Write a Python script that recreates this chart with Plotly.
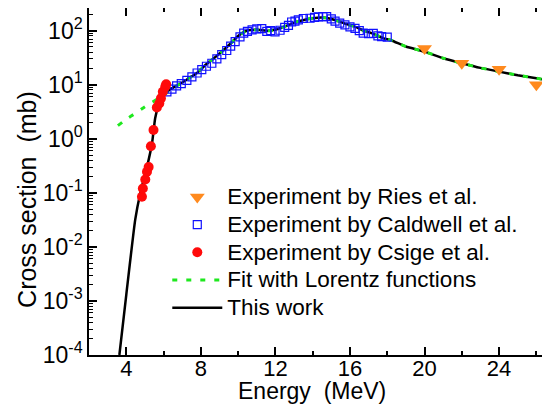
import plotly.graph_objects as go

# =============================================================================
# DATA
# =============================================================================
# This work (black solid curve)
work_e = [3.63, 4.0, 4.48, 4.75, 5.11, 5.38, 5.55, 5.73, 5.9, 6.09, 6.36, 6.62, 7.0,
          7.34, 7.79, 8.23, 8.6, 9.12, 9.6, 10.0, 10.46, 11.0, 11.7, 12.2, 12.69,
          13.1, 13.59, 14.0, 14.48, 14.9, 15.37, 15.8, 16.27, 16.7, 17.16, 17.78,
          18.23, 19.0, 20.0, 21.0, 22.0, 23.0, 24.0, 25.0, 26.0, 27.0]
work_xs = [1.0e-4, 1.3e-3, 0.032, 0.098, 0.30, 0.82, 2.4, 4.2, 5.6, 6.9, 8.3, 9.2, 11,
           13.1, 16.5, 23, 29, 41, 58, 80, 100, 104, 100, 110, 127,
           145, 160, 170, 175, 168, 151, 133, 119, 102, 90, 73,
           66, 51, 41, 31, 25, 20.5, 17.5, 15, 13.2, 11.5]

# Fit with Lorentz functions (green dotted)
fit_e = [3.55, 4.0, 4.48, 5.0, 5.29, 5.7, 6.09, 6.36, 6.62, 7.0, 7.34, 7.79, 8.23,
         8.6, 9.12, 9.6, 10.0, 10.46, 11.0, 11.7, 12.2, 12.69, 13.1, 13.59, 14.0,
         14.48, 14.9, 15.37, 15.8, 16.27, 16.7, 17.16, 17.78, 18.23, 19.0, 20.0,
         21.0, 22.0, 23.0, 24.0, 25.0, 26.0, 27.0]
fit_xs = [1.75, 2.3, 2.95, 3.9, 4.5, 5.5, 6.7, 8.3, 9.2, 11, 13.1, 16.5, 23,
          29, 41, 58, 80, 100, 104, 100, 110, 127, 145, 160, 170,
          175, 168, 151, 133, 119, 102, 90, 73, 66, 51, 41,
          31, 25, 20.5, 17.5, 15, 13.2, 11.5]

# Experiment by Ries et al.
ries_e = [20.0, 22.0, 24.0, 26.0]
ries_xs = [47, 25, 19.3, 10.0]

# Experiment by Caldwell et al.
cald_e = [6.18, 6.45, 6.7, 6.95, 7.25, 7.52, 7.8, 8.05, 8.3, 8.59, 8.86, 9.12, 9.39,
          9.6, 9.84, 10.1, 10.3, 10.5, 10.75, 11.0, 11.27, 11.54, 11.75, 11.98,
          12.25, 12.5, 12.7, 12.87, 13.05, 13.23, 13.5, 13.86, 14.1, 14.3, 14.55,
          14.75, 15.0, 15.2, 15.45, 15.73, 16.0, 16.27, 16.5, 16.71, 17.0, 17.25,
          17.5, 17.7, 18.0]
cald_xs = [7.4, 8.3, 9.5, 10.5, 12.0, 14.0, 16.5, 19, 22, 25, 30, 36, 43,
           52, 63, 77, 90, 97, 104, 108, 109, 97, 100, 95,
           102, 115, 125, 145, 150, 158, 168, 170, 176, 180, 182,
           182, 165, 150, 138, 128, 118, 110, 100, 90, 88, 89,
           80, 78, 76]

# Experiment by Csige et al.
csige_e = [4.84, 4.89, 5.02, 5.11, 5.2, 5.32, 5.46, 5.64, 5.77, 5.86, 5.96, 6.09, 6.14]
csige_xs = [0.085, 0.12, 0.177, 0.245, 0.30, 0.73, 1.45, 3.8, 4.5, 5.6, 7.4, 9.2, 10.2]

# Axis ticks
y_tickvals = [1e-4, 1e-3, 1e-2, 1e-1, 1e0, 1e1, 1e2]
y_ticktext = ["10<sup>-4</sup>", "10<sup>-3</sup>", "10<sup>-2</sup>", "10<sup>-1</sup>",
              "10<sup>0</sup>", "10<sup>1</sup>", "10<sup>2</sup>"]

# =============================================================================
# STYLE
# =============================================================================
FONT = "Arial, 'Liberation Sans', sans-serif"
LEG = '<span style="font-size:22.5px">%s</span>'

fig = go.Figure()

fig.add_trace(go.Scatter(
    x=work_e, y=work_xs, mode='lines', name=LEG % 'This work',
    line=dict(color='black', width=2.5, shape='spline', smoothing=0.5),
    legendrank=5
))
fig.add_trace(go.Scatter(
    x=fit_e, y=fit_xs, mode='lines', name=LEG % 'Fit with Lorentz functions',
    line=dict(color='#1ee81e', width=3, dash='5px,9px', shape='spline', smoothing=0.5),
    legendrank=4
))
fig.add_trace(go.Scatter(
    x=cald_e, y=cald_xs, mode='markers', name=LEG % 'Experiment by Caldwell et al.',
    marker=dict(symbol='square-open', size=8, color='#1010ff', line=dict(width=1.2)),
    legendrank=2
))
fig.add_trace(go.Scatter(
    x=csige_e, y=csige_xs, mode='markers', name=LEG % 'Experiment by Csige et al.',
    marker=dict(symbol='circle', size=10, color='#ff0a0a'),
    legendrank=3
))
fig.add_trace(go.Scatter(
    x=ries_e, y=ries_xs, mode='markers', name=LEG % 'Experiment by Ries et al.',
    marker=dict(symbol='triangle-down', size=13, color='#ff8a1e'),
    legendrank=1
))

minor_y = [m * 10 ** k for k in range(-4, 3) for m in range(2, 10) if m * 10 ** k < 300]

axis_common = dict(
    showline=True, linecolor='black', linewidth=1.5, mirror='ticks',
    ticks='inside', ticklen=8, tickwidth=1.5, tickcolor='black',
    showgrid=False, zeroline=False, automargin=False,
)

fig.update_xaxes(
    **axis_common, range=[2, 27], tickmode='linear', tick0=0, dtick=4,
    tickfont=dict(size=22, color='black', family=FONT), ticklabelstandoff=-7,
    minor=dict(ticks='inside', ticklen=4, tickwidth=1.5, tickcolor='black', dtick=2, tick0=0),
)
fig.update_yaxes(
    **axis_common, type='log', range=[-4, 2.42],
    tickmode='array', tickvals=y_tickvals, ticktext=y_ticktext,
    tickfont=dict(size=23, color='black', family=FONT),
    minor=dict(ticks='inside', ticklen=4, tickwidth=1.2, tickcolor='black',
               tickmode='array', tickvals=minor_y),
)

# axis titles as annotations so they sit where the reference has them
fig.add_annotation(text='Energy&nbsp; (MeV)', xref='paper', yref='paper',
                   x=0.4785, y=-0.06, xanchor='center', yanchor='top', showarrow=False,
                   font=dict(size=23, color='black', family=FONT))
fig.add_annotation(text='Cross section&nbsp; (mb)', xref='paper', yref='paper',
                   x=-0.133, y=0.447, xanchor='center', yanchor='middle', showarrow=False,
                   textangle=-90, font=dict(size=25, color='black', family=FONT))

# page body has an 8px margin, so the figure is laid out in page-shifted pixels
fig.update_layout(
    width=550, height=408,
    margin=dict(l=81, r=3, t=0, b=61),
    paper_bgcolor='white', plot_bgcolor='white',
    font=dict(family=FONT, size=19, color='black'),
    legend=dict(x=0.168, y=0.51, xanchor='left', yanchor='top',
                bgcolor='rgba(0,0,0,0)', itemwidth=50, font=dict(size=19)),
    showlegend=True,
)

fig.write_html("out.html")
